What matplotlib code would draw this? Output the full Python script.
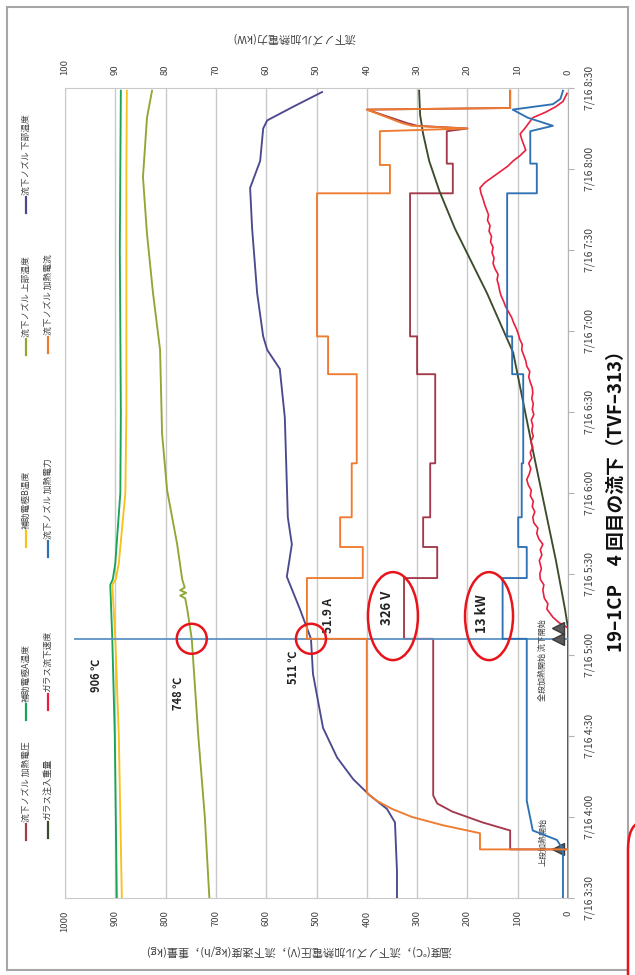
import matplotlib
matplotlib.use("Agg")
import matplotlib.pyplot as plt
from matplotlib.patches import Ellipse, Rectangle
from matplotlib.lines import Line2D
from matplotlib.path import Path
from matplotlib.patches import PathPatch
from matplotlib.ticker import FixedLocator, FuncFormatter

plt.rcParams["font.family"] = ["Noto Sans CJK JP", "DejaVu Sans"]


def hm(s):
    h, m = s.split(":")
    return int(h) + float(m) / 60.0


# ---------------- data (time "H:MM" on 7/16) ----------------
# 流下ノズル 加熱電圧 (V, left axis)
volt_time = ["3:30", "3:48", "3:48", "3:55", "3:58", "4:02", "4:05", "4:08", "5:06", "5:06",
             "5:28.5", "5:28.5", "5:40", "5:40", "5:51", "5:51", "6:11", "6:11", "6:44", "6:44",
             "6:58", "6:58", "7:51", "7:51", "8:02", "8:02", "8:14", "8:15", "8:16", "8:17",
             "8:22", "8:22.6", "8:29"]
volt_val = [0, 0, 115, 115, 170, 230, 260, 268, 268, 326,
            326, 260, 260, 288, 288, 274, 274, 264, 264, 300,
            300, 314, 314, 229, 229, 241, 241, 200, 300, 320,
            400, 115, 115]

# 流下ノズル 加熱電流 (A, right axis)
cur_time = ["3:30", "3:48", "3:48", "3:54", "3:57", "4:00", "4:03", "4:06", "4:09", "5:06",
            "5:06", "5:28.5", "5:28.5", "5:40", "5:40", "5:51", "5:51", "6:11", "6:11", "6:44",
            "6:44", "6:58", "6:58", "7:51", "7:51", "8:01.5", "8:01.5", "8:14", "8:15", "8:16",
            "8:17", "8:22", "8:22.6", "8:29"]
cur_val = [0, 0, 17.5, 17.5, 25, 31, 35, 38, 40, 40,
           51.9, 51.9, 40.8, 40.8, 45.3, 45.3, 43, 43, 42, 42,
           47.7, 47.7, 49.9, 49.9, 35.4, 35.4, 37.4, 37.4, 20, 31,
           33, 40, 11.5, 11.5]

# 流下ノズル 加熱電力 (kW, right axis)
pow_time = ["3:30", "3:48", "3:51.5", "3:55", "4:06", "5:06", "5:06", "5:28.5", "5:28.5", "5:40",
            "5:40", "5:51", "5:51", "6:11", "6:11", "6:44", "6:44", "6:58", "6:58", "7:51",
            "7:51", "8:02", "8:02", "8:14", "8:16", "8:19", "8:22", "8:24", "8:26", "8:29"]
pow_val = [1, 1, 2.2, 7, 8.2, 8.2, 13, 13, 8.2, 8.2,
           9.9, 9.9, 9.2, 9.2, 8.9, 8.9, 11.1, 11.1, 12.1, 12.1,
           6.2, 6.2, 7.5, 7.5, 3, 8, 11, 3, 1.5, 1]

# 補助電極A温度 / 補助電極B温度 (℃)
elecA_time = ["3:30", "4:30", "5:06", "5:26", "5:28", "5:34", "6:00", "6:30", "7:00", "7:30", "8:00", "8:29"]
elecA_val = [897, 901, 906, 910, 905, 900, 890, 889, 890, 891, 890, 889]
elecB_time = ["3:30", "4:30", "5:06", "5:26", "5:28", "5:34", "6:00", "6:30", "7:00", "7:30", "8:00", "8:29"]
elecB_val = [887, 893, 900, 906, 899, 893, 880, 878, 878, 878, 878, 877]

# 流下ノズル 上部温度 (℃)
upper_time = ["3:30", "4:00", "4:30", "5:06", "5:17", "5:21", "5:22", "5:23", "5:24", "5:25",
              "5:28", "5:41", "6:01", "6:22", "6:53", "7:14", "7:36", "7:57", "8:19", "8:29"]
upper_val = [713, 722, 735, 748, 757, 761, 771, 759, 771, 762,
             767, 777, 797, 807, 811, 825, 837, 845, 837, 827]

# 流下ノズル 下部温度 (℃)
lower_time = ["3:30", "3:40", "3:58", "4:03", "4:08", "4:14", "4:22", "4:33", "4:53", "5:06",
              "5:17", "5:29", "5:41", "5:51", "6:28", "6:46", "6:53", "6:58", "7:14", "7:38",
              "7:53", "8:03", "8:15", "8:18", "8:23", "8:28.5"]
lower_val = [340, 340, 344, 360, 394, 427, 459, 487, 507, 511,
             533, 559, 549, 557, 563, 573, 598, 606, 618, 628,
             632, 612, 606, 598, 547, 489]

# ガラス注入重量 (kg)
weight_time = ["3:30", "5:10", "5:17", "5:29", "5:35", "5:43", "6:16", "6:52", "7:14", "7:26",
               "7:38", "7:52", "8:03", "8:13", "8:20", "8:29"]
weight_val = [0, 0, 6, 18, 24, 33, 70, 109, 161, 193,
              225, 256, 276, 288, 294, 296]

# ガラス流下速度 (kg/h)
flow_time = ["3:30", "5:10", "5:12", "5:14", "5:17", "5:19", "5:21", "5:24", "5:26", "5:28",
             "5:30", "5:32", "5:35", "5:37", "5:39", "5:41", "5:43", "5:45", "5:47", "5:49",
             "5:51", "5:53", "5:55", "5:57", "5:59", "6:01", "6:03", "6:05", "6:07", "6:09",
             "6:11", "6:13", "6:15", "6:17", "6:19", "6:21", "6:23", "6:25", "6:27", "6:29",
             "6:31", "6:33", "6:35", "6:37", "6:39", "6:41", "6:43", "6:45", "6:47", "6:49",
             "6:51", "6:53", "6:55", "6:57", "6:59", "7:01", "7:03", "7:05", "7:07", "7:09",
             "7:11", "7:13", "7:15", "7:17", "7:19", "7:21", "7:23", "7:25", "7:27", "7:29",
             "7:31", "7:33", "7:35", "7:37", "7:39", "7:41", "7:43", "7:45", "7:47", "7:49",
             "7:51", "7:53", "7:55", "7:57", "7:59", "8:01", "8:03", "8:05", "8:07", "8:09",
             "8:11", "8:13", "8:15", "8:17", "8:19", "8:21", "8:23", "8:25", "8:28"]
flow_val = [0, 0, 18, 30, 42, 40, 47, 50, 48, 55,
            56, 53, 57, 52, 55, 50, 58, 62, 60, 68,
            70, 66, 71, 69, 75, 73, 79, 82, 77, 74,
            78, 72, 75, 70, 74, 69, 72, 70, 73, 68,
            71, 69, 72, 70, 71, 75, 78, 76, 82, 84,
            88, 92, 91, 96, 99, 103, 108, 112, 118, 124,
            128, 133, 136, 138, 141, 139, 145, 149, 147, 151,
            149, 154, 152, 157, 155, 160, 158, 162, 166, 169,
            173, 175, 165, 150, 135, 120, 109, 95, 84, 88,
            92, 95, 86, 78, 70, 45, 25, 10, 2]

# event markers on the time axis
event_time = ["3:48", "5:06", "5:10"]
event_name = ["上段加熱開始", "全段加熱開始", "流下開始"]

time_ticks = ["3:30", "4:00", "4:30", "5:00", "5:30", "6:00", "6:30", "7:00", "7:30", "8:00", "8:30"]
left_ticks = list(range(0, 1001, 100))
right_ticks = list(range(0, 101, 10))

# ---------------- styling ----------------
C_VOLT = "#a33a4c"
C_ELA = "#1aa458"
C_ELB = "#f7c21b"
C_UP = "#8ea833"
C_LOW = "#4c4a8e"
C_WT = "#3c4c2c"
C_FLOW = "#ea1f3d"
C_POW = "#2f72b4"
C_CUR = "#ee7b2f"
GRID = "#c9c9c9"
TXT = "#404040"

W, H = 635, 975
fig = plt.figure(figsize=(W / 100, H / 100), dpi=100)
fig.patch.set_facecolor("white")


def fx(x):
    return x / W


def fy(y):
    return 1 - y / H


ax = fig.add_axes([fx(65), fy(898), fx(568) - fx(65), fy(88) - fy(898)])
ax.set_xlim(1000, 0)
ax.set_ylim(hm("3:30"), hm("8:30"))
ax2 = ax.twiny()
ax2.set_xlim(100, 0)


def T(lst):
    return [hm(s) for s in lst]


lw = 1.35
ax.plot(volt_val, T(volt_time), color=C_VOLT, lw=lw, zorder=3)
ax.plot(elecA_val, T(elecA_time), color=C_ELA, lw=lw, zorder=3)
ax.plot(elecB_val, T(elecB_time), color=C_ELB, lw=lw, zorder=3)
ax.plot(upper_val, T(upper_time), color=C_UP, lw=lw, zorder=3)
ax.plot(lower_val, T(lower_time), color=C_LOW, lw=lw, zorder=3)
ax.plot(weight_val, T(weight_time), color=C_WT, lw=lw, zorder=3)
ax.plot(flow_val, T(flow_time), color=C_FLOW, lw=1.2, zorder=3)
ax2.plot(pow_val, T(pow_time), color=C_POW, lw=lw, zorder=3)
ax2.plot(cur_val, T(cur_time), color=C_CUR, lw=lw, zorder=4)

# axes, grid and ticks
ax.xaxis.set_major_locator(FixedLocator(left_ticks))
ax.grid(axis="x", color=GRID, lw=1.0, zorder=0)
ax.set_axisbelow(True)
for side in ("top", "bottom", "left"):
    ax.spines[side].set_color(GRID)
ax.spines["right"].set_color("#b3b3b3")
for s in ax2.spines.values():
    s.set_visible(False)

ax.tick_params(axis="x", length=0, pad=9, labelsize=6.8, labelcolor=TXT, labelrotation=90)
ax2.xaxis.set_major_locator(FixedLocator(right_ticks))
ax2.tick_params(axis="x", length=0, pad=9, labelsize=6.8, labelcolor=TXT, labelrotation=90)

ax.yaxis.tick_right()
ax.yaxis.set_major_locator(FixedLocator(T(time_ticks)))
ax.yaxis.set_major_formatter(FuncFormatter(
    lambda v, p: "7/16 %d:%02d" % (int(v + 1e-6), round((v - int(v + 1e-6)) * 60))))
ax.tick_params(axis="y", which="major", length=4, color="#b3b3b3", direction="out",
               pad=8, labelsize=7.5, labelcolor=TXT, labelrotation=90)
for lab in ax.get_yticklabels():
    lab.set_va("center")

# start-of-flow line
t_ev = hm(event_time[1])
ax.axhline(t_ev, xmin=0.02, xmax=1, color="#5d93c3", lw=1.3, zorder=5)

# event triangles
ax.plot([20] * len(event_time), T(event_time), linestyle="none", marker="<",
        markersize=9, color="#5a5a5a", markeredgecolor="#3a3a3a", zorder=6)
ax.text(50, hm("3:50.7"), event_name[0], rotation=90, ha="center", va="center",
        fontsize=5.8, color=TXT, zorder=6)
ax.text(50, hm("4:58"), event_name[1] + " " + event_name[2], rotation=90, ha="center",
        va="center", fontsize=5.8, color=TXT, zorder=6)

# value labels at the start of flow
bold = dict(rotation=90, ha="center", va="center", fontweight="bold", color="#222222", zorder=7)
ax.text(938, hm("4:52.6"), "906 ℃", fontsize=8, **bold)
ax.text(775, hm("4:45.9"), "748 ℃", fontsize=8, **bold)
ax.text(547, hm("4:55.6"), "511 ℃", fontsize=8, **bold)
ax.text(477, hm("5:14.8"), "51.9 A", fontsize=8.5, **bold)
ax.text(360, hm("5:17.4"), "326 V", fontsize=9.5, **bold)
ax.text(171, hm("5:15.5"), "13 kW", fontsize=9.5, **bold)


def ring(axis, xv, tv, w_px, h_px):
    cx, cy = axis.transData.transform((xv, tv))
    fig.add_artist(Ellipse((cx / fig.dpi, cy / fig.dpi), w_px / fig.dpi, h_px / fig.dpi,
                           transform=fig.dpi_scale_trans, fill=False, ec="#e8141c", lw=1.8,
                           zorder=10))


ring(ax, 748, t_ev, 30, 30)
ring(ax, 511, t_ev, 30, 30)
ring(ax, 348, hm("5:14.4"), 50, 88)
ring(ax, 157, hm("5:14.4"), 48, 88)

# legend drawn beside the plot (two rows, rotated)
legend_rows = [
    (26, [("流下ノズル 加熱電圧", C_VOLT, 840), ("補助電極A温度", C_ELA, 720),
          ("補助電極B温度", C_ELB, 547), ("流下ノズル 上部温度", C_UP, 355),
          ("流下ノズル 下部温度", C_LOW, 213)]),
    (48, [("ガラス注入重量", C_WT, 838), ("ガラス流下速度", C_FLOW, 710),
          ("流下ノズル 加熱電力", C_POW, 557), ("流下ノズル 加熱電流", C_CUR, 353)]),
]
for xr, items in legend_rows:
    for name, col, y0 in items:
        fig.add_artist(Line2D([fx(xr), fx(xr)], [fy(y0), fy(y0 - 16)], color=col, lw=1.6))
        fig.text(fx(xr), fy(y0 - 18), name, rotation=90, ha="center", va="bottom",
                 fontsize=6.3, color=TXT)

# axis titles (upside down)
fig.text(fx(298), fy(950), "温度(℃)，流下ノズル加熱電圧(V)，流下速度(kg/h)，重量(kg)",
         rotation=180, ha="center", va="center", fontsize=8, color=TXT)
fig.text(fx(294), fy(38), "流下ノズル加熱電力(kW)", rotation=180, ha="center",
         va="center", fontsize=8, color=TXT)

# chart title
fig.text(fx(616), fy(497), "19–1CP　4 回目の流下（TVF–313）", rotation=90, ha="center",
         va="center", fontsize=13.5, fontweight="bold", color="#111111")

# outer frame
fig.add_artist(Rectangle((fx(7), fy(970)), fx(628) - fx(7), fy(7) - fy(970),
                         transform=fig.transFigure, fill=False, ec="#a6a6a6", lw=1.5))

# red marker outline at the lower right edge
verts = [(fx(640), fy(822)), (fx(628), fy(826)), (fx(628), fy(850)), (fx(628), fy(980))]
codes = [Path.MOVETO, Path.CURVE3, Path.CURVE3, Path.LINETO]
fig.add_artist(PathPatch(Path(verts, codes), transform=fig.transFigure, fill=False,
                         ec="#e8141c", lw=1.8))

fig.savefig("out.png", dpi=100, facecolor="white")
